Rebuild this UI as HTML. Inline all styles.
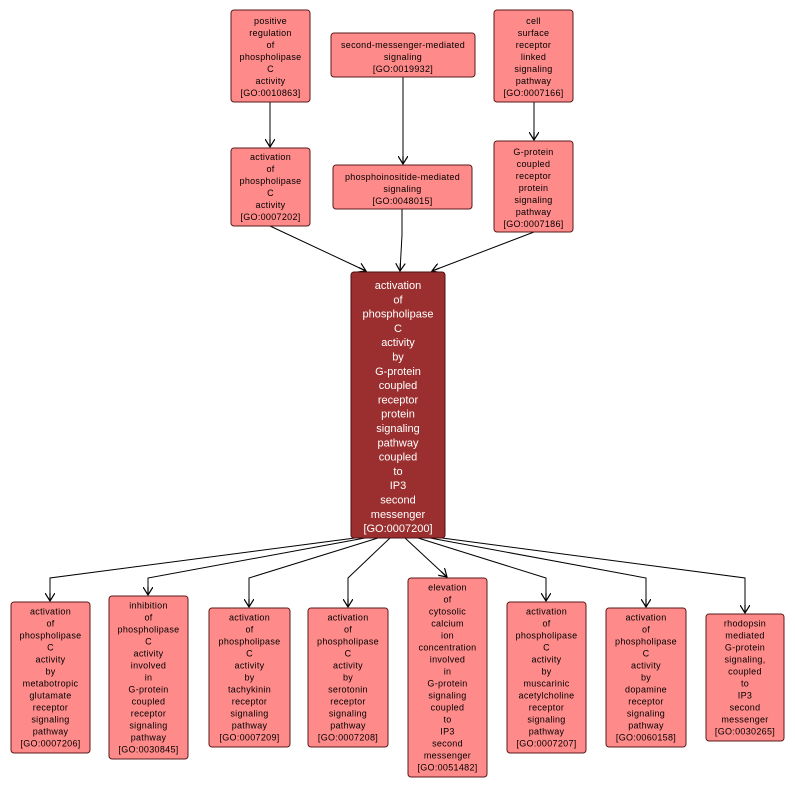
<!DOCTYPE html>
<html><head><meta charset="utf-8"><style>
body{margin:0;background:#fff}
svg text{font-family:"Liberation Sans",sans-serif;font-size:9px;text-anchor:middle;fill:#000;letter-spacing:0.3px}
.n{fill:#ff8a8a;stroke:#5a1a1a;stroke-width:1}
.c text{fill:#fff;font-size:11px;letter-spacing:0}
.e{stroke:#000;fill:none;stroke-width:1}
</style></head><body>
<svg width="795" height="789" viewBox="0 0 795 789" xmlns="http://www.w3.org/2000/svg">
<defs><marker id="a" markerWidth="10" markerHeight="10" refX="8" refY="5" orient="auto" markerUnits="userSpaceOnUse"><path d="M0,0 L8,5 L0,10 M8,5 L0,5" stroke="#000" fill="none" stroke-width="1.2"/></marker></defs>
<g class="e" marker-end="url(#a)">
<line x1="270" y1="102" x2="270" y2="147"/>
<line x1="403" y1="77" x2="403" y2="164"/>
<line x1="534" y1="102" x2="534" y2="140"/>
<line x1="270" y1="226" x2="366" y2="271"/>
<polyline points="402,209 402,235 400,271"/>
<line x1="534" y1="232" x2="432" y2="271"/>
<polyline points="355,538 50,578 50,601"/>
<polyline points="365,538 148,578 148,595"/>
<polyline points="378,538 249,578 249,607"/>
<polyline points="390,538 348,578 348,607"/>
<polyline points="405,538 447,577"/>
<polyline points="418,538 546,578 546,601"/>
<polyline points="430,538 646,578 646,607"/>
<polyline points="442,538 745,578 745,613"/>
</g>
<rect class="n" x="231" y="10" width="79" height="92" rx="3"/>
<text y="24"><tspan x="270.5">positive</tspan><tspan x="270.5" dy="12">regulation</tspan><tspan x="270.5" dy="12">of</tspan><tspan x="270.5" dy="12">phospholipase</tspan><tspan x="270.5" dy="12">C</tspan><tspan x="270.5" dy="12">activity</tspan><tspan x="270.5" dy="12">[GO:0010863]</tspan></text>
<rect class="n" x="331" y="33" width="144" height="44" rx="3"/>
<text y="48"><tspan x="403">second-messenger-mediated</tspan><tspan x="403" dy="12">signaling</tspan><tspan x="403" dy="12">[GO:0019932]</tspan></text>
<rect class="n" x="494" y="10" width="79" height="92" rx="3"/>
<text y="24"><tspan x="533.5">cell</tspan><tspan x="533.5" dy="12">surface</tspan><tspan x="533.5" dy="12">receptor</tspan><tspan x="533.5" dy="12">linked</tspan><tspan x="533.5" dy="12">signaling</tspan><tspan x="533.5" dy="12">pathway</tspan><tspan x="533.5" dy="12">[GO:0007166]</tspan></text>
<rect class="n" x="231" y="148" width="79" height="78" rx="3"/>
<text y="160"><tspan x="270.5">activation</tspan><tspan x="270.5" dy="12">of</tspan><tspan x="270.5" dy="12">phospholipase</tspan><tspan x="270.5" dy="12">C</tspan><tspan x="270.5" dy="12">activity</tspan><tspan x="270.5" dy="12">[GO:0007202]</tspan></text>
<rect class="n" x="333" y="165" width="139" height="44" rx="3"/>
<text y="180"><tspan x="402.5">phosphoinositide-mediated</tspan><tspan x="402.5" dy="12">signaling</tspan><tspan x="402.5" dy="12">[GO:0048015]</tspan></text>
<rect class="n" x="494" y="141" width="79" height="91" rx="3"/>
<text y="155"><tspan x="533.5">G-protein</tspan><tspan x="533.5" dy="12">coupled</tspan><tspan x="533.5" dy="12">receptor</tspan><tspan x="533.5" dy="12">protein</tspan><tspan x="533.5" dy="12">signaling</tspan><tspan x="533.5" dy="12">pathway</tspan><tspan x="533.5" dy="12">[GO:0007186]</tspan></text>
<g class="c"><rect x="351" y="272" width="94" height="266" rx="3" fill="#9b2f2f" stroke="#4a1010"/>
<text y="289"><tspan x="398">activation</tspan><tspan x="398" dy="14.3">of</tspan><tspan x="398" dy="14.3">phospholipase</tspan><tspan x="398" dy="14.3">C</tspan><tspan x="398" dy="14.3">activity</tspan><tspan x="398" dy="14.3">by</tspan><tspan x="398" dy="14.3">G-protein</tspan><tspan x="398" dy="14.3">coupled</tspan><tspan x="398" dy="14.3">receptor</tspan><tspan x="398" dy="14.3">protein</tspan><tspan x="398" dy="14.3">signaling</tspan><tspan x="398" dy="14.3">pathway</tspan><tspan x="398" dy="14.3">coupled</tspan><tspan x="398" dy="14.3">to</tspan><tspan x="398" dy="14.3">IP3</tspan><tspan x="398" dy="14.3">second</tspan><tspan x="398" dy="14.3">messenger</tspan><tspan x="398" dy="14.3">[GO:0007200]</tspan></text></g>
<rect class="n" x="11" y="602" width="79" height="151" rx="3"/>
<text y="614.5"><tspan x="50.5">activation</tspan><tspan x="50.5" dy="12">of</tspan><tspan x="50.5" dy="12">phospholipase</tspan><tspan x="50.5" dy="12">C</tspan><tspan x="50.5" dy="12">activity</tspan><tspan x="50.5" dy="12">by</tspan><tspan x="50.5" dy="12">metabotropic</tspan><tspan x="50.5" dy="12">glutamate</tspan><tspan x="50.5" dy="12">receptor</tspan><tspan x="50.5" dy="12">signaling</tspan><tspan x="50.5" dy="12">pathway</tspan><tspan x="50.5" dy="12">[GO:0007206]</tspan></text>
<rect class="n" x="109" y="596" width="79" height="163" rx="3"/>
<text y="608.5"><tspan x="148.5">inhibition</tspan><tspan x="148.5" dy="12">of</tspan><tspan x="148.5" dy="12">phospholipase</tspan><tspan x="148.5" dy="12">C</tspan><tspan x="148.5" dy="12">activity</tspan><tspan x="148.5" dy="12">involved</tspan><tspan x="148.5" dy="12">in</tspan><tspan x="148.5" dy="12">G-protein</tspan><tspan x="148.5" dy="12">coupled</tspan><tspan x="148.5" dy="12">receptor</tspan><tspan x="148.5" dy="12">signaling</tspan><tspan x="148.5" dy="12">pathway</tspan><tspan x="148.5" dy="12">[GO:0030845]</tspan></text>
<rect class="n" x="209" y="608" width="81" height="139" rx="3"/>
<text y="620.5"><tspan x="249.5">activation</tspan><tspan x="249.5" dy="12">of</tspan><tspan x="249.5" dy="12">phospholipase</tspan><tspan x="249.5" dy="12">C</tspan><tspan x="249.5" dy="12">activity</tspan><tspan x="249.5" dy="12">by</tspan><tspan x="249.5" dy="12">tachykinin</tspan><tspan x="249.5" dy="12">receptor</tspan><tspan x="249.5" dy="12">signaling</tspan><tspan x="249.5" dy="12">pathway</tspan><tspan x="249.5" dy="12">[GO:0007209]</tspan></text>
<rect class="n" x="308" y="608" width="80" height="139" rx="3"/>
<text y="620.5"><tspan x="348">activation</tspan><tspan x="348" dy="12">of</tspan><tspan x="348" dy="12">phospholipase</tspan><tspan x="348" dy="12">C</tspan><tspan x="348" dy="12">activity</tspan><tspan x="348" dy="12">by</tspan><tspan x="348" dy="12">serotonin</tspan><tspan x="348" dy="12">receptor</tspan><tspan x="348" dy="12">signaling</tspan><tspan x="348" dy="12">pathway</tspan><tspan x="348" dy="12">[GO:0007208]</tspan></text>
<rect class="n" x="408" y="578" width="79" height="199" rx="3"/>
<text y="590.5"><tspan x="447.5">elevation</tspan><tspan x="447.5" dy="12">of</tspan><tspan x="447.5" dy="12">cytosolic</tspan><tspan x="447.5" dy="12">calcium</tspan><tspan x="447.5" dy="12">ion</tspan><tspan x="447.5" dy="12">concentration</tspan><tspan x="447.5" dy="12">involved</tspan><tspan x="447.5" dy="12">in</tspan><tspan x="447.5" dy="12">G-protein</tspan><tspan x="447.5" dy="12">signaling</tspan><tspan x="447.5" dy="12">coupled</tspan><tspan x="447.5" dy="12">to</tspan><tspan x="447.5" dy="12">IP3</tspan><tspan x="447.5" dy="12">second</tspan><tspan x="447.5" dy="12">messenger</tspan><tspan x="447.5" dy="12">[GO:0051482]</tspan></text>
<rect class="n" x="507" y="602" width="79" height="151" rx="3"/>
<text y="614.5"><tspan x="546.5">activation</tspan><tspan x="546.5" dy="12">of</tspan><tspan x="546.5" dy="12">phospholipase</tspan><tspan x="546.5" dy="12">C</tspan><tspan x="546.5" dy="12">activity</tspan><tspan x="546.5" dy="12">by</tspan><tspan x="546.5" dy="12">muscarinic</tspan><tspan x="546.5" dy="12">acetylcholine</tspan><tspan x="546.5" dy="12">receptor</tspan><tspan x="546.5" dy="12">signaling</tspan><tspan x="546.5" dy="12">pathway</tspan><tspan x="546.5" dy="12">[GO:0007207]</tspan></text>
<rect class="n" x="606" y="608" width="80" height="139" rx="3"/>
<text y="620.5"><tspan x="646">activation</tspan><tspan x="646" dy="12">of</tspan><tspan x="646" dy="12">phospholipase</tspan><tspan x="646" dy="12">C</tspan><tspan x="646" dy="12">activity</tspan><tspan x="646" dy="12">by</tspan><tspan x="646" dy="12">dopamine</tspan><tspan x="646" dy="12">receptor</tspan><tspan x="646" dy="12">signaling</tspan><tspan x="646" dy="12">pathway</tspan><tspan x="646" dy="12">[GO:0060158]</tspan></text>
<rect class="n" x="706" y="614" width="78" height="127" rx="3"/>
<text y="626.5"><tspan x="745">rhodopsin</tspan><tspan x="745" dy="12">mediated</tspan><tspan x="745" dy="12">G-protein</tspan><tspan x="745" dy="12">signaling,</tspan><tspan x="745" dy="12">coupled</tspan><tspan x="745" dy="12">to</tspan><tspan x="745" dy="12">IP3</tspan><tspan x="745" dy="12">second</tspan><tspan x="745" dy="12">messenger</tspan><tspan x="745" dy="12">[GO:0030265]</tspan></text>
</svg>
</body></html>
